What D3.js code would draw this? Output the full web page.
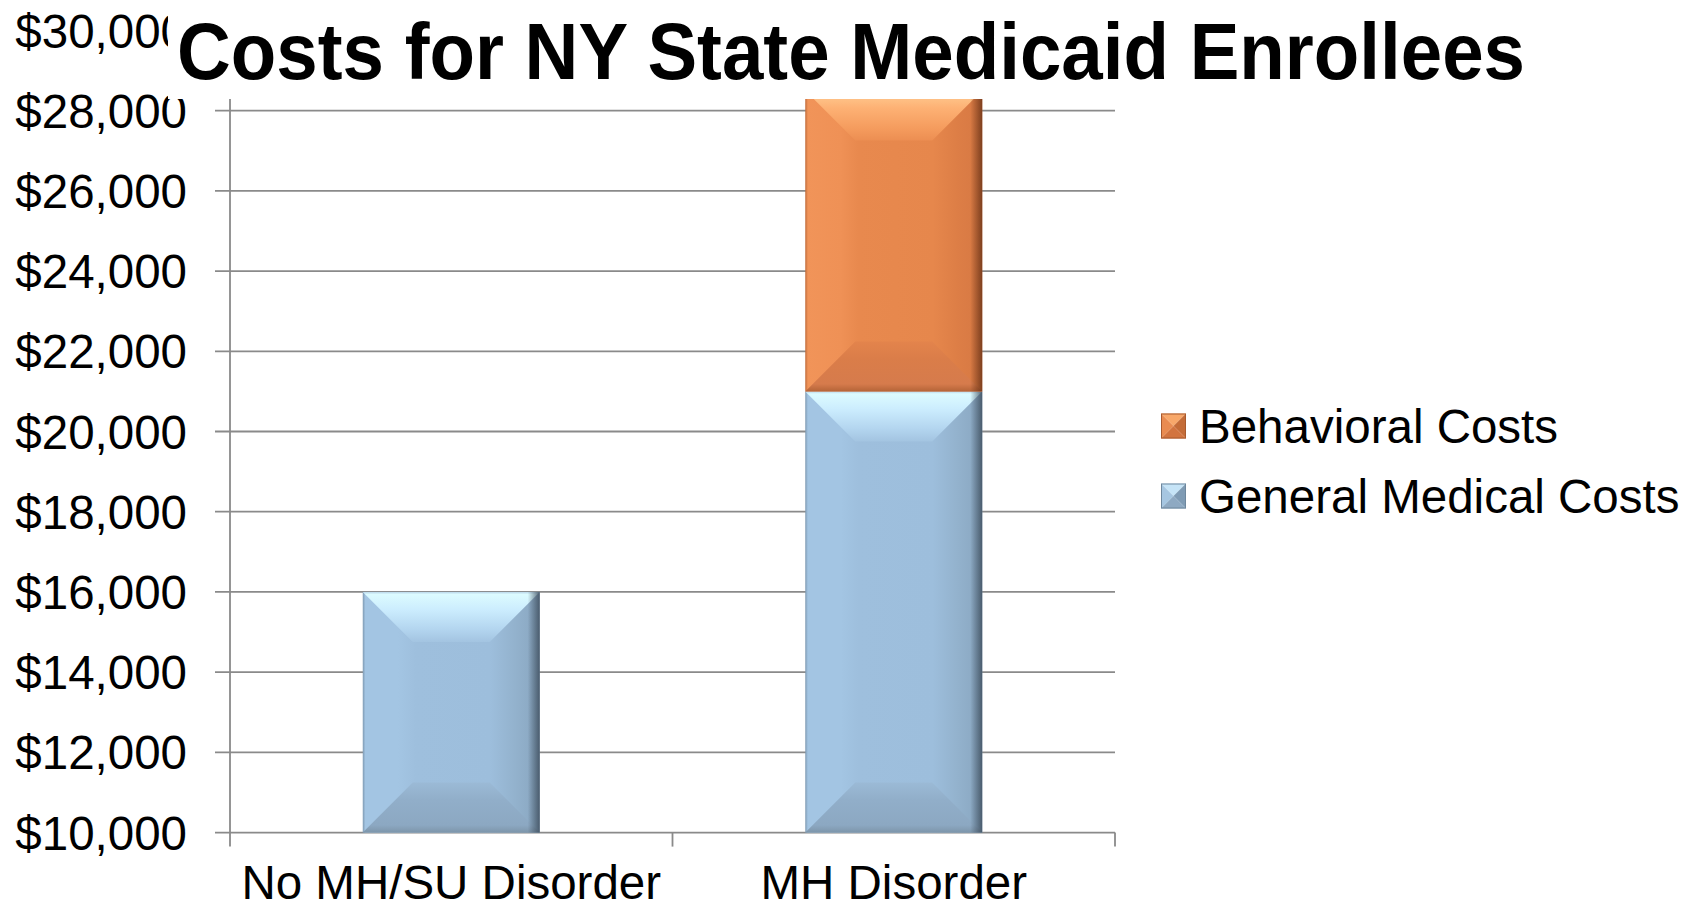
<!DOCTYPE html>
<html>
<head>
<meta charset="utf-8">
<script src="https://cdn.jsdelivr.net/npm/d3@7"></script>
<style>
  html, body { margin: 0; padding: 0; background: #fff; }
  svg { display: block; font-family: "Liberation Sans", Arial, sans-serif; }
</style>
</head>
<body>
<svg id="chart" width="1702" height="910"></svg>
<script>
// ---- data ----
const categories = ["No MH/SU Disorder", "MH Disorder"];
const generalMedicalCosts = [16000, 21000];
const behavioralCosts = [0, 7500];
const seriesKeys = ["general", "behavioral"];
const legendLabels = ["Behavioral Costs", "General Medical Costs"];
const yTickValues = [10000, 12000, 14000, 16000, 18000, 20000, 22000, 24000, 26000, 28000, 30000];
const titleText = "Costs for NY State Medicaid Enrollees";

// ---- layout ----
const W = 1702, H = 910;
const plot = { left: 230, right: 1115, top: 30.4, bottom: 832.6 };
const FONT = 47.5;
const gridColor = "#8a8a8a";

const svg = d3.select("#chart");
const defs = svg.append("defs");

const x = d3.scaleBand().domain(categories).range([plot.left, plot.right]).padding(0);
const y = d3.scaleLinear().domain([10000, 30000]).range([plot.bottom, plot.top]);
const barFrac = 0.4;

// ---- bevel palettes ----
const palettes = {
  general: {
    base: [[0, "#7f9ab2"], [0.015, "#a3c5e3"], [0.2, "#a3c5e3"], [0.3, "#9ebfdd"], [0.72, "#9dbedc"], [0.86, "#93b2cd"], [1, "#88a5bf"]],
    top: [[0, "#b9d6ea"], [0.05, "#dcfbff"], [0.35, "#ccedfe"], [0.75, "#b3d5ef"], [1, "#a3c4e1"]],
    bottom: [[0, "#9bbad6"], [0.35, "#91aec9"], [0.85, "#8ca8c2"], [1, "#7d95aa"]],
    edge: "#3f4f5f",
    legend: { top: "#c6e4f7", left: "#a6c6e1", right: "#7f9bb4", bottom: "#8ea9c2", stroke: "#6e879d" }
  },
  behavioral: {
    base: [[0, "#c06b3a"], [0.015, "#f19459"], [0.2, "#ef9156"], [0.3, "#e8894e"], [0.72, "#e6874c"], [0.86, "#dd7e46"], [1, "#d67843"]],
    top: [[0, "#f7b57e"], [0.05, "#ffca90"], [0.35, "#fdb174"], [0.75, "#f59c5e"], [1, "#ec8e52"]],
    bottom: [[0, "#e3844c"], [0.35, "#da7d49"], [0.85, "#d67b4c"], [1, "#b56438"]],
    edge: "#6e3518",
    legend: { top: "#f8a86a", left: "#e98b50", right: "#c46c38", bottom: "#d2743f", stroke: "#a85a2e" }
  }
};

function addGradient(id, stops, vertical) {
  const g = defs.append("linearGradient").attr("id", id)
    .attr("x1", 0).attr("y1", 0)
    .attr("x2", vertical ? 0 : 1).attr("y2", vertical ? 1 : 0);
  stops.forEach(([o, c]) => g.append("stop").attr("offset", o).attr("stop-color", c));
}
seriesKeys.forEach(k => {
  const p = palettes[k];
  addGradient("base-" + k, p.base, false);
  addGradient("top-" + k, p.top, true);
  addGradient("bot-" + k, p.bottom, true);
  const e = defs.append("linearGradient").attr("id", "edge-" + k)
    .attr("x1", 0).attr("y1", 0).attr("x2", 1).attr("y2", 0);
  e.append("stop").attr("offset", 0).attr("stop-color", p.edge).attr("stop-opacity", 0);
  e.append("stop").attr("offset", 1).attr("stop-color", p.edge).attr("stop-opacity", 0.85);
});

// ---- gridlines and axes ----
const gGrid = svg.append("g");
gGrid.selectAll("line.grid").data(yTickValues).join("line")
  .attr("class", "grid")
  .attr("x1", plot.left - 15).attr("x2", plot.right)
  .attr("y1", d => y(d)).attr("y2", d => y(d))
  .attr("stroke", gridColor).attr("stroke-width", 1.8);

// value axis line
gGrid.append("line")
  .attr("x1", plot.left).attr("x2", plot.left)
  .attr("y1", plot.top).attr("y2", plot.bottom + 14)
  .attr("stroke", gridColor).attr("stroke-width", 1.8);

// category tick marks at band boundaries
const boundaries = categories.map(c => x(c) + x.bandwidth());
gGrid.selectAll("line.ctick").data(boundaries).join("line")
  .attr("class", "ctick")
  .attr("x1", d => d).attr("x2", d => d)
  .attr("y1", plot.bottom).attr("y2", plot.bottom + 14)
  .attr("stroke", gridColor).attr("stroke-width", 1.8);

// value tick labels
const fmt = d3.format("$,.0f");
svg.append("g").selectAll("text").data(yTickValues).join("text")
  .attr("x", 187).attr("y", d => y(d))
  .attr("dy", "0.36em")
  .attr("text-anchor", "end")
  .attr("font-size", FONT).attr("fill", "#000")
  .text(d => fmt(d));

// category labels
svg.append("g").selectAll("text").data(categories).join("text")
  .attr("x", d => x(d) + x.bandwidth() / 2).attr("y", 899)
  .attr("text-anchor", "middle")
  .attr("font-size", FONT).attr("fill", "#000")
  .text(d => d);

// ---- stacked bars (stacked above the 10,000 axis floor) ----
const rows = categories.map((c, i) => ({ category: c, general: generalMedicalCosts[i] - 10000, behavioral: behavioralCosts[i] }));
const stacked = d3.stack().keys(seriesKeys)(rows);

function drawBevelBar(g, x0, x1, y0, y1, key) {
  const h = y1 - y0, w = x1 - x0;
  if (h <= 0) return;
  const b = Math.min(50, h / 2, w / 2);
  g.append("rect").attr("x", x0).attr("y", y0).attr("width", w).attr("height", h)
    .attr("fill", `url(#base-${key})`);
  g.append("path")
    .attr("d", `M${x0},${y0}L${x1},${y0}L${x1 - b},${y0 + b}L${x0 + b},${y0 + b}Z`)
    .attr("fill", `url(#top-${key})`);
  g.append("path")
    .attr("d", `M${x0},${y1}L${x1},${y1}L${x1 - b},${y1 - b}L${x0 + b},${y1 - b}Z`)
    .attr("fill", `url(#bot-${key})`);
  // darkened right edge
  g.append("rect").attr("x", x1 - 12).attr("y", y0).attr("width", 12).attr("height", h)
    .attr("fill", `url(#edge-${key})`);
}

const gBars = svg.append("g");
stacked.forEach(layer => {
  const key = layer.key;
  layer.forEach((seg, i) => {
    const cat = categories[i];
    const bx0 = x(cat) + x.bandwidth() * (1 - barFrac) / 2;
    const bx1 = bx0 + x.bandwidth() * barFrac;
    const v0 = seg[0] + 10000, v1 = seg[1] + 10000;
    if (v1 - v0 <= 0) return;
    drawBevelBar(gBars, bx0, bx1, y(v1), y(v0), key);
  });
});

// ---- title on its white box ----
svg.append("rect").attr("x", 168).attr("y", 0).attr("width", 1420).attr("height", 99).attr("fill", "#fff");
svg.append("text")
  .attr("x", 177).attr("y", 79)
  .attr("font-size", 80).attr("font-weight", "bold").attr("fill", "#000")
  .attr("textLength", 1348).attr("lengthAdjust", "spacingAndGlyphs")
  .text(titleText);

// ---- legend ----
const legendKeys = ["behavioral", "general"];
const gLeg = svg.append("g");
legendKeys.forEach((k, i) => {
  const cy = 426 + i * 70;
  const s = 25, lx = 1161, ly = cy - s / 2;
  const p = palettes[k].legend;
  const cx = lx + s / 2, cyy = ly + s / 2;
  gLeg.append("path").attr("d", `M${lx},${ly}L${lx + s},${ly}L${cx},${cyy}Z`).attr("fill", p.top);
  gLeg.append("path").attr("d", `M${lx},${ly}L${cx},${cyy}L${lx},${ly + s}Z`).attr("fill", p.left);
  gLeg.append("path").attr("d", `M${lx + s},${ly}L${lx + s},${ly + s}L${cx},${cyy}Z`).attr("fill", p.right);
  gLeg.append("path").attr("d", `M${lx},${ly + s}L${lx + s},${ly + s}L${cx},${cyy}Z`).attr("fill", p.bottom);
  gLeg.append("rect").attr("x", lx + 0.5).attr("y", ly + 0.5).attr("width", s - 1).attr("height", s - 1)
    .attr("fill", "none").attr("stroke", p.stroke).attr("stroke-width", 1);
  gLeg.append("text")
    .attr("x", 1199).attr("y", cy).attr("dy", "0.36em")
    .attr("font-size", FONT).attr("fill", "#000")
    .text(legendLabels[i]);
});
</script>
</body>
</html>
